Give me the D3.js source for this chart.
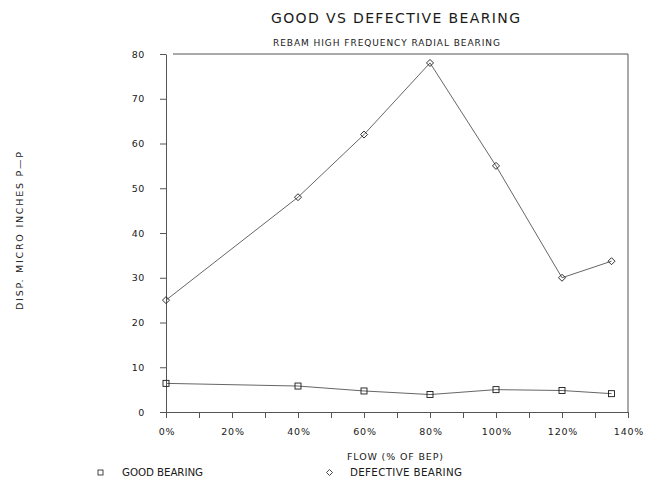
<!DOCTYPE html>
<html>
<head>
<meta charset="utf-8">
<script src="https://cdn.jsdelivr.net/npm/d3@7"></script>
<style>
  body { margin: 0; background: #fff; }
  svg { display: block; font-family: "DejaVu Sans", sans-serif; }
</style>
</head>
<body>
<svg id="chart"></svg>
<script>
const flows = [0, 40, 60, 80, 100, 120, 135]
const good = [6.4, 5.8, 4.7, 3.9, 5.0, 4.8, 4.1]
const defective = [25, 48, 62, 78, 55, 30, 33.7]
const xTicks = [0, 20, 40, 60, 80, 100, 120, 140]
const yTicks = [0, 10, 20, 30, 40, 50, 60, 70, 80]

const width = 654
const height = 483
const margin = {top: 54, right: 26, bottom: 71, left: 166}

const svg = d3.select('#chart')
  .attr('width', width)
  .attr('height', height)
  .attr('viewBox', `0 0 ${width} ${height}`)

const x = d3.scaleLinear()
  .domain([0, 140])
  .range([margin.left, width - margin.right])

const y = d3.scaleLinear()
  .domain([0, 80])
  .range([height - margin.bottom, margin.top])

const ink = '#1a1a1a'
const line = '#555'

// frame: top and right border
svg.append('path')
  .attr('d', `M${x(0) + 7},${y(80)} H${x(140)} V${y(0)}`)
  .attr('fill', 'none')
  .attr('stroke', line)
  .attr('stroke-width', 1)

const xAxis = g => g
  .attr('transform', `translate(0,${y(0)})`)
  .call(d3.axisBottom(x).tickValues(d3.range(0, 141, 10)).tickSize(6).tickSizeOuter(0).tickFormat(() => ''))
  .call(g => g.selectAll('line, path').attr('stroke', line))

const yAxis = g => g
  .attr('transform', `translate(${x(0)},0)`)
  .call(d3.axisLeft(y).tickValues(yTicks).tickSize(6).tickSizeOuter(0).tickPadding(15))
  .call(g => g.selectAll('line, path').attr('stroke', line))
  .call(g => g.selectAll('text')
    .attr('font-size', 9.5)
    .attr('font-family', '"DejaVu Sans", sans-serif')
    .attr('fill', ink)
    .attr('letter-spacing', 0.6))

svg.append('g').call(xAxis)
svg.append('g').call(yAxis)

// x tick labels, every 20%
svg.append('g')
  .selectAll('text')
  .data(xTicks)
  .join('text')
    .attr('x', d => x(d) + 1)
    .attr('y', y(0) + 23)
    .attr('text-anchor', 'middle')
    .attr('font-size', 9.5)
    .attr('letter-spacing', 0.8)
    .attr('fill', ink)
    .text(d => d + '%')

const path = d3.line()
  .x((d, i) => x(flows[i]))
  .y(d => y(d))

for (const series of [good, defective]) {
  svg.append('path')
    .datum(series)
    .attr('d', path)
    .attr('fill', 'none')
    .attr('stroke', line)
    .attr('stroke-width', 0.9)
}

const sq = 6
svg.append('g')
  .selectAll('rect')
  .data(good)
  .join('rect')
    .attr('x', (d, i) => x(flows[i]) - sq / 2)
    .attr('y', d => y(d) - sq / 2)
    .attr('width', sq)
    .attr('height', sq)
    .attr('fill', 'none')
    .attr('stroke', ink)
    .attr('stroke-width', 0.9)

const diamond = (cx, cy, r) => `M${cx},${cy - r} L${cx + r},${cy} L${cx},${cy + r} L${cx - r},${cy} Z`

svg.append('g')
  .selectAll('path')
  .data(defective)
  .join('path')
    .attr('d', (d, i) => diamond(x(flows[i]), y(d), 3.5))
    .attr('fill', 'none')
    .attr('stroke', ink)
    .attr('stroke-width', 0.9)

// text helper: fit a label to the span it takes in the reference
const label = (txt, x0, x1, base, size) => svg.append('text')
  .attr('x', x0)
  .attr('y', base)
  .attr('font-size', size)
  .attr('textLength', x1 - x0)
  .attr('lengthAdjust', 'spacing')
  .attr('fill', ink)
  .text(txt)

label('GOOD VS DEFECTIVE BEARING', 271, 520, 23, 14)
label('REBAM HIGH FREQUENCY RADIAL BEARING', 273, 500, 46, 9)
label('FLOW (% OF BEP)', 347, 443, 460, 9.5)

svg.append('text')
  .attr('transform', `translate(23,310) rotate(-90)`)
  .attr('font-size', 9.5)
  .attr('textLength', 158)
  .attr('lengthAdjust', 'spacing')
  .attr('fill', ink)
  .text('DISP. MICRO INCHES P\u2014P')

// legend
svg.append('rect')
  .attr('x', 98).attr('y', 470)
  .attr('width', 5).attr('height', 5)
  .attr('fill', 'none').attr('stroke', ink).attr('stroke-width', 0.8)
label('GOOD BEARING', 122, 203, 476, 10.3)

svg.append('path')
  .attr('d', diamond(329.5, 472.5, 3))
  .attr('fill', 'none').attr('stroke', ink).attr('stroke-width', 0.8)
label('DEFECTIVE BEARING', 350, 462, 476, 10.3)
</script>
</body>
</html>
